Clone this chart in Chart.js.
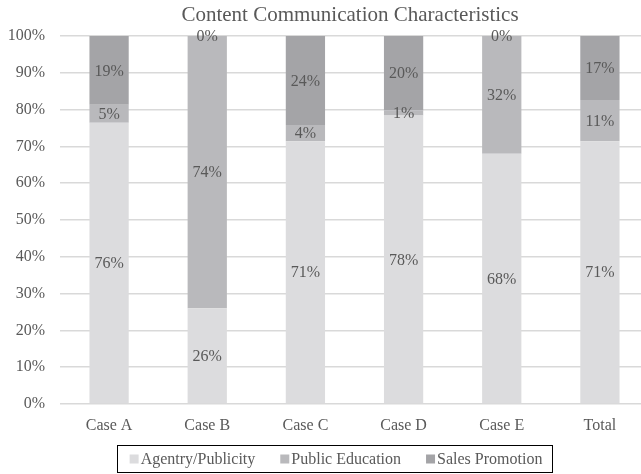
<!DOCTYPE html>
<html>
<head>
<meta charset="utf-8">
<script src="https://cdn.jsdelivr.net/npm/chart.js@4"></script>
<style>
  html, body { margin: 0; padding: 0; background: #fff; overflow: hidden; }
  canvas { display: block; }
</style>
</head>
<body>
<canvas id="barCanvas" width="650" height="474"></canvas>
<script>
const categories = ['Case A', 'Case B', 'Case C', 'Case D', 'Case E', 'Total'];
const seriesNames = ['Agentry/Publicity', 'Public Education', 'Sales Promotion'];
const agentry = [76.4, 26, 71.4, 78.4, 68, 71.4];
const publicEducation = [4.9, 74, 4.4, 1.4, 32, 11.2];
const salesPromotion = [18.7, 0, 24.2, 20.2, 0, 17.4];
const yTicks = [0, 10, 20, 30, 40, 50, 60, 70, 80, 90, 100];

const textColor = '#595959';
const fontFamily = '"Liberation Serif", "Times New Roman", serif';
const colors = ['#dcdcde', '#b9b9bc', '#a4a4a7'];

document.addEventListener("DOMContentLoaded", function(e) {
    const barCanvas = document.getElementById('barCanvas');

    // labels inside each segment, title and boxed legend
    const extras = {
        id: 'extras',
        afterDatasetsDraw(chart) {
            const ctx = chart.ctx;
            ctx.save();
            ctx.font = '16px ' + fontFamily;
            ctx.fillStyle = textColor;
            ctx.textAlign = 'center';
            ctx.textBaseline = 'middle';
            chart.data.datasets.forEach(function(ds, i) {
                chart.getDatasetMeta(i).data.forEach(function(bar, j) {
                    const y = (bar.y + bar.base) / 2;
                    ctx.fillText(Math.round(ds.data[j]) + '%', bar.x, y + 1);
                });
            });
            ctx.restore();
        },
        afterDraw(chart) {
            const ctx = chart.ctx;
            ctx.save();
            ctx.fillStyle = textColor;
            ctx.textBaseline = 'middle';
            ctx.textAlign = 'center';
            ctx.font = '21px ' + fontFamily;
            ctx.fillText('Content Communication Characteristics', 350, 15);

            // legend
            ctx.font = '16px ' + fontFamily;
            ctx.textAlign = 'left';
            const box = 9, gap = 2, spacing = 25;
            const widths = seriesNames.map(n => box + gap + ctx.measureText(n).width);
            const total = widths.reduce((a, b) => a + b, 0) + spacing * (widths.length - 1);
            let x = 336 - total / 2;
            const cy = 459;
            ctx.strokeStyle = '#000';
            ctx.lineWidth = 1;
            ctx.strokeRect(Math.round(x - 13) + 0.5, 445.5, Math.round(total + 22), 27);
            seriesNames.forEach(function(n, i) {
                ctx.fillStyle = colors[i];
                ctx.fillRect(x, cy - 4.5, box, box);
                ctx.fillStyle = textColor;
                ctx.fillText(n, x + box + gap, cy + 1);
                x += widths[i] + spacing;
            });
            ctx.restore();
        }
    };

    new Chart(barCanvas, {
        type: 'bar',
        data: {
            labels: categories,
            datasets: [
                { label: seriesNames[0], data: agentry, backgroundColor: colors[0] },
                { label: seriesNames[1], data: publicEducation, backgroundColor: colors[1] },
                { label: seriesNames[2], data: salesPromotion, backgroundColor: colors[2] }
            ]
        },
        options: {
            responsive: false,
            animation: false,
            layout: { padding: { top: 36, left: 0, right: 1, bottom: 40 } },
            datasets: { bar: { barPercentage: 0.4, categoryPercentage: 1 } },
            scales: {
                x: {
                    stacked: true,
                    grid: { display: false, drawTicks: false },
                    border: { display: false },
                    ticks: { color: textColor, font: { family: fontFamily, size: 16 }, padding: 12 },
                    afterFit(scale) { scale.height = 30; }
                },
                y: {
                    stacked: true,
                    min: 0,
                    max: 100,
                    afterBuildTicks(scale) { scale.ticks = yTicks.map(v => ({ value: v })); },
                    grid: { color: '#d9d9d9', lineWidth: 1.5, drawTicks: false },
                    border: { display: false },
                    ticks: {
                        color: textColor,
                        font: { family: fontFamily, size: 16 },
                        padding: 15,
                        callback: v => v + '%'
                    },
                    afterFit(scale) { scale.width = 60; }
                }
            },
            plugins: {
                legend: { display: false },
                title: { display: false },
                tooltip: { enabled: false }
            }
        },
        plugins: [extras]
    });
});
</script>
</body>
</html>
